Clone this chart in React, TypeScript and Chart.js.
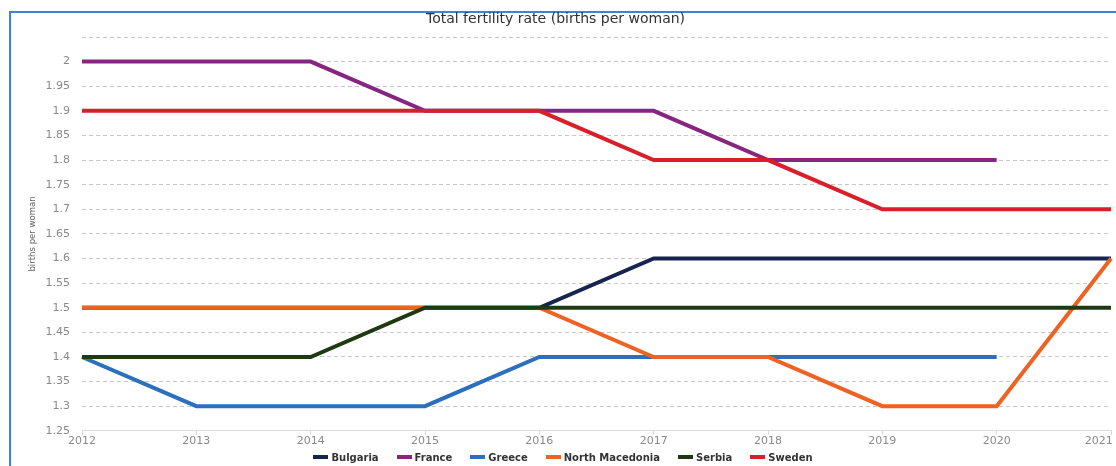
import React, { useEffect, useRef } from "react";
import { Chart, registerables } from "chart.js";

Chart.register(...registerables);

const years = ["2012", "2013", "2014", "2015", "2016", "2017", "2018", "2019", "2020", "2021"];
const seriesNames = ["Bulgaria", "France", "Greece", "North Macedonia", "Serbia", "Sweden"];
const seriesColors = ["#15254f", "#86277f", "#2b6fbd", "#ee6224", "#1f3a12", "#d81f2a"];
const bulgaria = [1.5, 1.5, 1.5, 1.5, 1.5, 1.6, 1.6, 1.6, 1.6, 1.6];
const france = [2.0, 2.0, 2.0, 1.9, 1.9, 1.9, 1.8, 1.8, 1.8, null];
const greece = [1.4, 1.3, 1.3, 1.3, 1.4, 1.4, 1.4, 1.4, 1.4, null];
const northMacedonia = [1.5, 1.5, 1.5, 1.5, 1.5, 1.4, 1.4, 1.3, 1.3, 1.6];
const serbia = [1.4, 1.4, 1.4, 1.5, 1.5, 1.5, 1.5, 1.5, 1.5, 1.5];
const sweden = [1.9, 1.9, 1.9, 1.9, 1.9, 1.8, 1.8, 1.7, 1.7, 1.7];
const seriesValues = [bulgaria, france, greece, northMacedonia, serbia, sweden];
const yMin = 1.25;
const yMax = 2.05;
const yStep = 0.05;
const chartTitle = "Total fertility rate (births per woman)";
const yTitle = "births per woman";

export default function App() {
  const ref = useRef<HTMLCanvasElement | null>(null);

  useEffect(() => {
    document.body.style.margin = "0";
    const canvas = ref.current;
    if (!canvas) return;
    const chart = new Chart(canvas, {
      type: "line",
      data: {
        labels: years,
        datasets: seriesNames.map((name, i) => ({
          label: name,
          data: seriesValues[i],
          borderColor: seriesColors[i],
          backgroundColor: seriesColors[i],
          borderWidth: 4,
          pointRadius: 0,
          pointHoverRadius: 0,
          tension: 0,
          fill: false,
          spanGaps: false,
          order: seriesNames.length - i,
        })),
      },
      options: {
        animation: false,
        responsive: true,
        maintainAspectRatio: false,
        layout: { padding: { left: 0, right: 5, top: 0, bottom: 18 } },
        plugins: {
          legend: { display: false },
          tooltip: { enabled: false },
          title: {
            display: true,
            text: chartTitle,
            color: "#333",
            font: { family: "DejaVu Sans", size: 14, weight: "normal" },
            padding: { top: 11, bottom: 9.2 },
          },
        },
        scales: {
          x: {
            type: "category",
            grid: {
              display: true,
              drawOnChartArea: false,
              drawTicks: true,
              tickLength: 4,
              color: "#d8d8d8",
            },
            border: { display: true, color: "#dcdcdc" },
            ticks: {
              color: "#8a8a8a",
              padding: 0,
              maxRotation: 0,
              autoSkip: false,
              font: { family: "DejaVu Sans", size: 11 },
              callback: (v: any, i: number) =>
                i === years.length - 1 ? years[i] + "\u0020\u0020\u0020\u0020\u0020\u0020\u0020" : years[i],
            },
            afterFit: (s: any) => {
              s.paddingRight = 0;
            },
          },
          y: {
            min: yMin,
            max: yMax,
            grid: {
              color: "#c8c8c8",
              drawTicks: false,
              lineWidth: 1,
            },
            border: { display: false, dash: [4, 3] },
            ticks: {
              stepSize: yStep,
              color: "#8a8a8a",
              padding: 12,
              font: { family: "DejaVu Sans", size: 11 },
              callback: (v: any) => {
                const n = Number(Number(v).toFixed(2));
                if (Math.abs(n - yMax) < 1e-6) return "";
                return String(n);
              },
            },
            title: {
              display: true,
              text: yTitle,
              color: "#666",
              font: { family: "Liberation Sans Narrow, DejaVu Sans Condensed", size: 9.5 },
              padding: { top: 27.3, bottom: 0 },
            },
            afterFit: (s: any) => {
              s.width = 82;
            },
          },
        },
      },
    });
    return () => chart.destroy();
  }, []);

  return (
    <div style={{ position: "relative", width: 1116, height: 466, overflow: "hidden", background: "#fff" }}>
      <div
        style={{
          position: "absolute",
          left: 9,
          top: 11,
          width: 1200,
          height: 500,
          borderLeft: "2px solid #3a84d2",
          borderTop: "2px solid #3a84d2",
        }}
      />
      <div style={{ position: "absolute", left: 0, top: 0, width: 1116, height: 466 }}>
        <canvas ref={ref} />
      </div>
      <div
        style={{
          position: "absolute",
          left: 10,
          width: 1106,
          top: 451,
          height: 12,
          display: "flex",
          justifyContent: "center",
          alignItems: "center",
          fontFamily: "DejaVu Sans",
          fontWeight: "bold",
          fontSize: 10,
          color: "#333",
        }}
      >
        {seriesNames.map((name, i) => (
          <div key={name} style={{ display: "flex", alignItems: "center", marginRight: i < seriesNames.length - 1 ? 18 : 0 }}>
            <span style={{ display: "inline-block", width: 15, height: 4, background: seriesColors[i], marginRight: 3 }} />
            <span>{name}</span>
          </div>
        ))}
      </div>
    </div>
  );
}
